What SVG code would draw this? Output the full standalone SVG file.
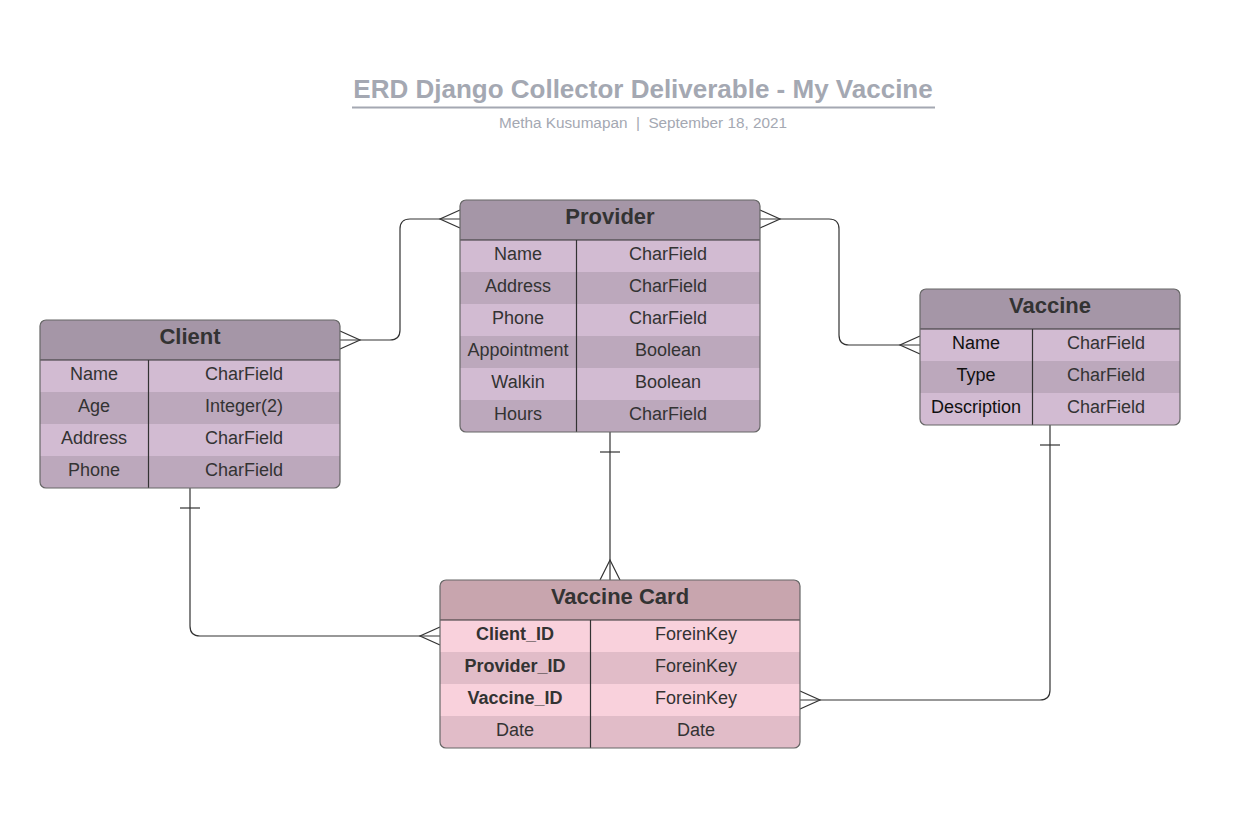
<svg xmlns="http://www.w3.org/2000/svg" width="1238" height="822" viewBox="0 0 1238 822">
<defs>
<style>
.bg{fill:#ffffff}
.title{font-family:"Liberation Sans",Arial,sans-serif;font-size:26px;font-weight:bold;fill:#a4a8b2;text-anchor:middle}
.sub{font-family:"Liberation Sans",Arial,sans-serif;font-size:15.3px;fill:#a4a8b2;text-anchor:middle;white-space:pre}
.hdr{font-family:"Liberation Sans",Arial,sans-serif;font-size:22px;font-weight:bold;fill:#333333;text-anchor:middle}
.cell{font-family:"Liberation Sans",Arial,sans-serif;font-size:18px;fill:#333333;text-anchor:middle}
.blk{fill:#111111}
.bold{font-weight:bold}
.ph{fill:#a596a7}
.pl{fill:#d2bbd2}
.pd{fill:#bca8bc}
.ch{fill:#c8a5ae}
.cl{fill:#f9d1dc}
.cd{fill:#e1bcc8}
.frame{fill:none;stroke:#666666;stroke-width:1.2}
.div{stroke:#333333;stroke-width:1.2;fill:none}
.conn{fill:none;stroke:#333333;stroke-width:1.2}
</style>
<clipPath id="cClient"><rect x="40" y="320" width="300" height="168" rx="6"/></clipPath>
<clipPath id="cProvider"><rect x="460" y="200" width="300" height="232" rx="6"/></clipPath>
<clipPath id="cVaccine"><rect x="920" y="289" width="260" height="136" rx="6"/></clipPath>
<clipPath id="cCard"><rect x="440" y="580" width="360" height="168" rx="6"/></clipPath>
</defs>
<rect class="bg" x="0" y="0" width="1238" height="822"/>

<g id="title">
<text class="title" x="643" y="98">ERD Django Collector Deliverable - My Vaccine</text>
<line x1="352" y1="107.5" x2="935" y2="107.5" stroke="#a4a8b2" stroke-width="2"/>
<text class="sub" x="643" y="128" xml:space="preserve">Metha Kusumapan  |  September 18, 2021</text>
</g>

<g id="connectors">
<!-- Client - Provider -->
<path class="conn" d="M340,340 H390 Q400,340 400,330 V229 Q400,219 410,219 H460"/>
<path class="conn" d="M340,331 L360,340 L340,349"/>
<path class="conn" d="M460,210 L440,219 L460,228"/>
<!-- Provider - Vaccine -->
<path class="conn" d="M760,219 H829 Q839,219 839,229 V335 Q839,345 849,345 H920"/>
<path class="conn" d="M760,210 L780,219 L760,228"/>
<path class="conn" d="M920,336 L900,345 L920,354"/>
<!-- Provider - Vaccine Card -->
<path class="conn" d="M610,432 V580"/>
<path class="conn" d="M600,452 H620"/>
<path class="conn" d="M600,580 L610,560 L620,580"/>
<!-- Client - Vaccine Card -->
<path class="conn" d="M190,488 V626 Q190,636 200,636 H440"/>
<path class="conn" d="M180,508 H200"/>
<path class="conn" d="M440,627 L420,636 L440,645"/>
<!-- Vaccine - Vaccine Card -->
<path class="conn" d="M1050,425 V690 Q1050,700 1040,700 H800"/>
<path class="conn" d="M1040,445 H1060"/>
<path class="conn" d="M800,691 L820,700 L800,709"/>
</g>

<g id="client">
<g clip-path="url(#cClient)">
<rect class="ph" x="40" y="320" width="300" height="40"/>
<rect class="pl" x="40" y="360" width="300" height="32"/>
<rect class="pd" x="40" y="392" width="300" height="32"/>
<rect class="pl" x="40" y="424" width="300" height="32"/>
<rect class="pd" x="40" y="456" width="300" height="32"/>
</g>
<line class="div" x1="40" y1="360" x2="340" y2="360"/>
<line class="div" x1="148.5" y1="360" x2="148.5" y2="488"/>
<rect class="frame" x="40" y="320" width="300" height="168" rx="6"/>
<text class="hdr" x="190" y="344">Client</text>
<text class="cell" x="94" y="380">Name</text>
<text class="cell" x="244" y="380">CharField</text>
<text class="cell" x="94" y="412">Age</text>
<text class="cell" x="244" y="412">Integer(2)</text>
<text class="cell" x="94" y="444">Address</text>
<text class="cell" x="244" y="444">CharField</text>
<text class="cell" x="94" y="476">Phone</text>
<text class="cell" x="244" y="476">CharField</text>
</g>

<g id="provider">
<g clip-path="url(#cProvider)">
<rect class="ph" x="460" y="200" width="300" height="40"/>
<rect class="pl" x="460" y="240" width="300" height="32"/>
<rect class="pd" x="460" y="272" width="300" height="32"/>
<rect class="pl" x="460" y="304" width="300" height="32"/>
<rect class="pd" x="460" y="336" width="300" height="32"/>
<rect class="pl" x="460" y="368" width="300" height="32"/>
<rect class="pd" x="460" y="400" width="300" height="32"/>
</g>
<line class="div" x1="460" y1="240" x2="760" y2="240"/>
<line class="div" x1="576.5" y1="240" x2="576.5" y2="432"/>
<rect class="frame" x="460" y="200" width="300" height="232" rx="6"/>
<text class="hdr" x="610" y="224">Provider</text>
<text class="cell" x="518" y="260">Name</text>
<text class="cell" x="668" y="260">CharField</text>
<text class="cell" x="518" y="292">Address</text>
<text class="cell" x="668" y="292">CharField</text>
<text class="cell" x="518" y="324">Phone</text>
<text class="cell" x="668" y="324">CharField</text>
<text class="cell" x="518" y="356">Appointment</text>
<text class="cell" x="668" y="356">Boolean</text>
<text class="cell" x="518" y="388">Walkin</text>
<text class="cell" x="668" y="388">Boolean</text>
<text class="cell" x="518" y="420">Hours</text>
<text class="cell" x="668" y="420">CharField</text>
</g>

<g id="vaccine">
<g clip-path="url(#cVaccine)">
<rect class="ph" x="920" y="289" width="260" height="40"/>
<rect class="pl" x="920" y="329" width="260" height="32"/>
<rect class="pd" x="920" y="361" width="260" height="32"/>
<rect class="pl" x="920" y="393" width="260" height="32"/>
</g>
<line class="div" x1="920" y1="329" x2="1180" y2="329"/>
<line class="div" x1="1032.5" y1="329" x2="1032.5" y2="425"/>
<rect class="frame" x="920" y="289" width="260" height="136" rx="6"/>
<text class="hdr" x="1050" y="313">Vaccine</text>
<text class="cell blk" x="976" y="349">Name</text>
<text class="cell" x="1106" y="349">CharField</text>
<text class="cell blk" x="976" y="381">Type</text>
<text class="cell" x="1106" y="381">CharField</text>
<text class="cell blk" x="976" y="413">Description</text>
<text class="cell" x="1106" y="413">CharField</text>
</g>

<g id="vaccine-card">
<g clip-path="url(#cCard)">
<rect class="ch" x="440" y="580" width="360" height="40"/>
<rect class="cl" x="440" y="620" width="360" height="32"/>
<rect class="cd" x="440" y="652" width="360" height="32"/>
<rect class="cl" x="440" y="684" width="360" height="32"/>
<rect class="cd" x="440" y="716" width="360" height="32"/>
</g>
<line class="div" x1="440" y1="620" x2="800" y2="620"/>
<line class="div" x1="590.5" y1="620" x2="590.5" y2="748"/>
<rect class="frame" x="440" y="580" width="360" height="168" rx="6"/>
<text class="hdr" x="620" y="604">Vaccine Card</text>
<text class="cell bold" x="515" y="640">Client_ID</text>
<text class="cell" x="696" y="640">ForeinKey</text>
<text class="cell bold" x="515" y="672">Provider_ID</text>
<text class="cell" x="696" y="672">ForeinKey</text>
<text class="cell bold" x="515" y="704">Vaccine_ID</text>
<text class="cell" x="696" y="704">ForeinKey</text>
<text class="cell" x="515" y="736">Date</text>
<text class="cell" x="696" y="736">Date</text>
</g>
</svg>
